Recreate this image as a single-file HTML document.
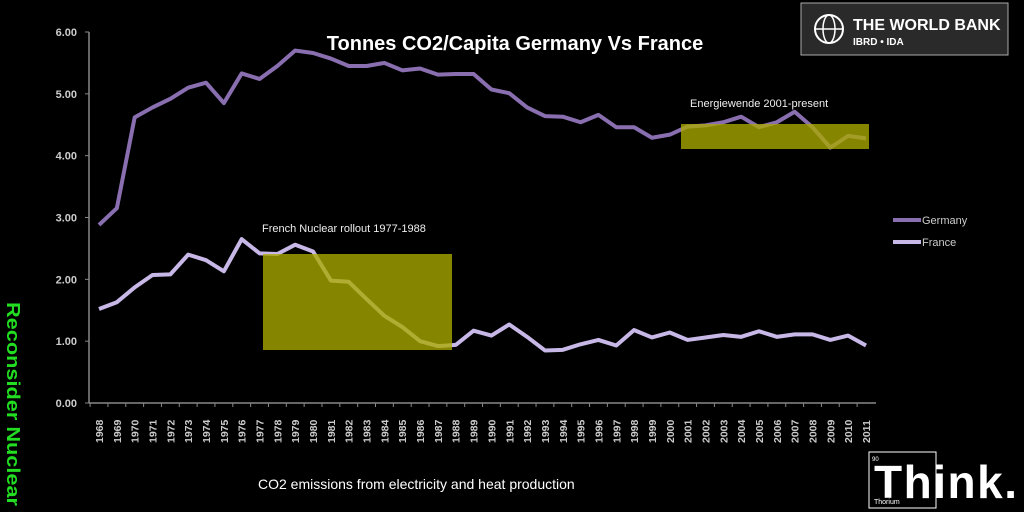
<!DOCTYPE html>
<html><head><meta charset="utf-8"><style>
html,body{margin:0;padding:0;background:#000;}
svg{display:block;font-family:"Liberation Sans",sans-serif;}
</style></head><body>
<svg width="1024" height="512" viewBox="0 0 1024 512">
<rect width="1024" height="512" fill="#000"/>
<text x="515" y="50" text-anchor="middle" font-size="20" font-weight="bold" fill="#fff">Tonnes CO2/Capita Germany Vs France</text>
<g id="axes"></g>
<g id="series"></g>
<g id="overlays"></g>
<g>
<line x1="893" y1="220" x2="921" y2="220" stroke="#8a6fb0" stroke-width="4"/>
<text x="922" y="224" font-size="11" fill="#ccc">Germany</text>
<line x1="893" y1="242" x2="921" y2="242" stroke="#c8b8e8" stroke-width="4"/>
<text x="922" y="246" font-size="11" fill="#ccc">France</text>
</g>
<text x="262" y="232" font-size="11" fill="#eee">French Nuclear rollout 1977-1988</text>
<text x="690" y="107" font-size="11" fill="#eee">Energiewende 2001-present</text>
<text x="258" y="489" font-size="14" fill="#fff">CO2 emissions from electricity and heat production</text>
<text transform="translate(7,302) rotate(90)" font-size="18" font-weight="bold" fill="#22dd22" textLength="204" lengthAdjust="spacingAndGlyphs">Reconsider Nuclear</text>
<g>
<rect x="801" y="3" width="207" height="52" fill="#2a2a2a" stroke="#aaa" stroke-width="1"/>
<circle cx="829" cy="29" r="14" fill="none" stroke="#fff" stroke-width="2"/>
<ellipse cx="829" cy="29" rx="6" ry="14" fill="none" stroke="#fff" stroke-width="1.5"/>
<line x1="815" y1="29" x2="843" y2="29" stroke="#fff" stroke-width="1.5"/>
<text x="853" y="30" font-size="16" font-weight="bold" fill="#fff">THE WORLD BANK</text>
<text x="853" y="45" font-size="10" font-weight="bold" fill="#fff">IBRD • IDA</text>
</g>
<g>
<rect x="869" y="452" width="67" height="56" fill="none" stroke="#fff" stroke-width="1"/>
<text x="872" y="461" font-size="6" fill="#fff">90</text>
<text x="874" y="504" font-size="7" fill="#fff">Thorium</text>
<text x="874" y="498" font-size="46" font-weight="bold" fill="#fff" textLength="143">Think.</text>
</g>
</svg>
<script>
const years = [];
for (let y = 1968; y <= 2011; y++) years.push(y);
const yTicks = [0,1,2,3,4,5,6];
const germany = [2.88,3.15,4.62,4.78,4.92,5.10,5.18,4.85,5.33,5.24,5.45,5.70,5.66,5.57,5.45,5.45,5.50,5.38,5.41,5.31,5.32,5.32,5.07,5.01,4.78,4.64,4.63,4.54,4.66,4.46,4.46,4.29,4.34,4.47,4.49,4.54,4.63,4.46,4.54,4.71,4.46,4.13,4.32,4.28];
const france = [1.52,1.63,1.87,2.07,2.08,2.40,2.31,2.13,2.65,2.42,2.41,2.56,2.45,1.98,1.96,1.68,1.41,1.23,1.00,0.92,0.94,1.17,1.09,1.27,1.07,0.85,0.86,0.95,1.02,0.93,1.18,1.06,1.14,1.02,1.06,1.10,1.07,1.16,1.07,1.11,1.11,1.02,1.09,0.93];
const ns = 'http://www.w3.org/2000/svg';
const x0 = 99, x1 = 866, yTop = 32, yBot = 403;
const xs = i => x0 + (x1 - x0) * i / (years.length - 1);
const ys = v => yBot - (yBot - yTop) * v / 6;
const mk = (t, a, p) => { const e = document.createElementNS(ns, t); for (const k in a) e.setAttribute(k, a[k]); p.appendChild(e); return e; };
const axes = document.getElementById('axes');
const yAxis = mk('line', {x1:89, y1:yTop, x2:89, y2:yBot, stroke:'#888', 'stroke-width':1.5}, axes);


const xAxis = mk('line', {x1:89, y1:yBot, x2:876, y2:yBot, stroke:'#888', 'stroke-width':1.5}, axes);


yTicks.forEach(v => {
  const t = mk('line', {x1:85, y1:ys(v), x2:89, y2:ys(v), stroke:'#888'}, axes);
  
  
  const l = mk('text', {x:77, y:ys(v)+4, 'text-anchor':'end', 'font-size':11, 'font-weight':'bold', fill:'#ccc'}, axes);
  l.textContent = v.toFixed(2);
  
  
});
years.forEach((yr, i) => {
  const t = mk('line', {x1:xs(i)-8.9, y1:yBot, x2:xs(i)-8.9, y2:yBot+4, stroke:'#888'}, axes);
  
  
  const l = mk('text', {transform:`translate(${xs(i)+4},${yBot+40}) rotate(-90)`, 'font-size':10.5, 'font-weight':'bold', fill:'#ccc'}, axes);
  l.textContent = yr;
  
  
});
const sg = document.getElementById('series');
const g = mk('polyline', {points: germany.map((v,i)=>xs(i)+','+ys(v)).join(' '), fill:'none', stroke:'#8a6fb0', 'stroke-width':4, 'stroke-linejoin':'round'}, sg);


const f = mk('polyline', {points: france.map((v,i)=>xs(i)+','+ys(v)).join(' '), fill:'none', stroke:'#c8b8e8', 'stroke-width':4, 'stroke-linejoin':'round'}, sg);


const ov = document.getElementById('overlays');
const r1 = mk('rect', {x:263, y:254, width:189, height:96, fill:'rgba(170,170,0,0.78)'}, ov);


const r2 = mk('rect', {x:681, y:124, width:188, height:25, fill:'rgba(170,170,0,0.78)'}, ov);


</script>
</body></html>
